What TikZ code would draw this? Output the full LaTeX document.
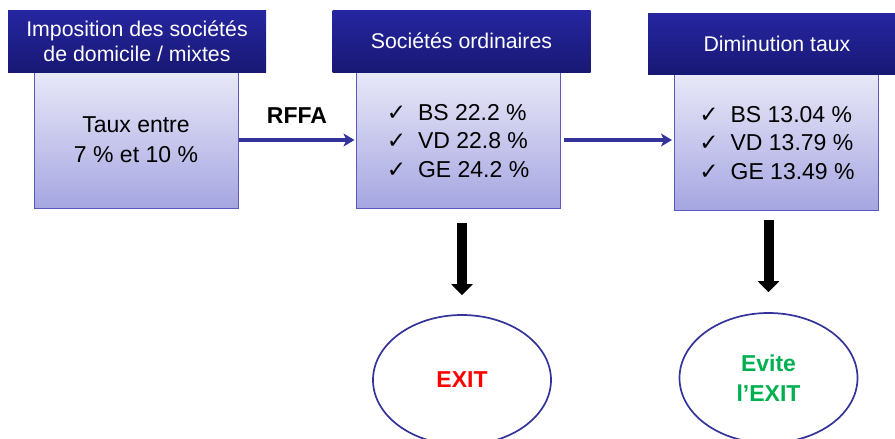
\documentclass[tikz,border=0pt]{standalone}
\usepackage{fontspec}
\setmainfont{Liberation Sans}
\newfontfamily\symfont{DejaVu Sans}
\usetikzlibrary{arrows.meta,shapes.geometric}
\definecolor{hdtop}{HTML}{2626A2}
\definecolor{hdbot}{HTML}{181874}
\definecolor{bdtop}{HTML}{E8E8F8}
\definecolor{bdbot}{HTML}{A6A6E2}
\definecolor{bdline}{HTML}{5A5ABE}
\definecolor{arrblue}{HTML}{333399}
\definecolor{exitred}{HTML}{FF0000}
\definecolor{evgreen}{HTML}{00B050}
\newcommand{\ck}{{\symfont\fontsize{23}{23}\selectfont ✓}\hspace{12pt}}
\begin{document}
\begin{tikzpicture}[x=1pt,y=-1pt,
  header/.style={rectangle, minimum width=258pt, minimum height=62pt, inner sep=0pt,
    top color=hdtop, bottom color=hdbot, text=white, align=center,
    font=\fontsize{21.3}{25}\selectfont},
  body/.style={rectangle, draw=bdline, line width=1pt, minimum width=204pt,
    minimum height=136pt, top color=bdtop, bottom color=bdbot, inner sep=0pt},
  bodytext/.style={align=center, font=\fontsize{23}{30}\selectfont},
  checktext/.style={align=left, font=\fontsize{23}{28.3}\selectfont},
  barr/.style={draw=arrblue, line width=3.2pt, -{Stealth[length=11pt,width=13pt,inset=3pt]}},
  blk/.style={draw=black, line width=10pt, -{Triangle[length=11pt,width=21pt]}},
  oval/.style={ellipse, draw=arrblue, line width=1.7pt, minimum width=178pt,
    minimum height=130pt, inner sep=0pt, align=center,
    font=\bfseries\fontsize{23}{30}\selectfont}
]
\useasboundingbox (0,0) rectangle (895,439);
% box 1
\node[body] (b1) at (136,140) {};
\node[header] (h1) at (137,41) {Imposition des sociétés\\de domicile / mixtes};
\node[bodytext] (t1) at (b1.center) {Taux entre\\7 \% et 10 \%};
% box 2
\node[body] (b2) at (458,140) {};
\node[header] (h2) at (461.5,41) {Sociétés ordinaires};
\node[checktext] (t2) at (458,141) {\ck BS 22.2 \%\\\ck VD 22.8 \%\\\ck GE 24.2 \%};
% box 3
\node[body] (b3) at (776.5,142) {};
\node[header, minimum height=61pt] (h3) at (777,43.5) {Diminution taux};
\node[checktext] (t3) at (777,143) {\ck BS 13.04 \%\\\ck VD 13.79 \%\\\ck GE 13.49 \%};
% label
\node[font=\bfseries\fontsize{23}{28}\selectfont] (rffa) at (297,116) {RFFA};
% ellipses
\node[oval, text=exitred] (e1) at (462,380) {EXIT};
\node[oval, text=evgreen] (e2) at (768.5,378) {Evite\\l’EXIT};
% arrows
\draw[barr, shorten >=1pt] (b1.east) -- (b2.west);
\draw[barr, shorten <=3pt, shorten >=2pt] (b2.east) -- (b2.east -| b3.west);
\draw[blk, shorten <=14pt, shorten >=19pt] (b2.south -| e1.north) -- (e1.north);
\draw[blk, shorten <=9pt, shorten >=20pt] (b3.south -| e2.north) -- (e2.north);
\end{tikzpicture}
\end{document}
